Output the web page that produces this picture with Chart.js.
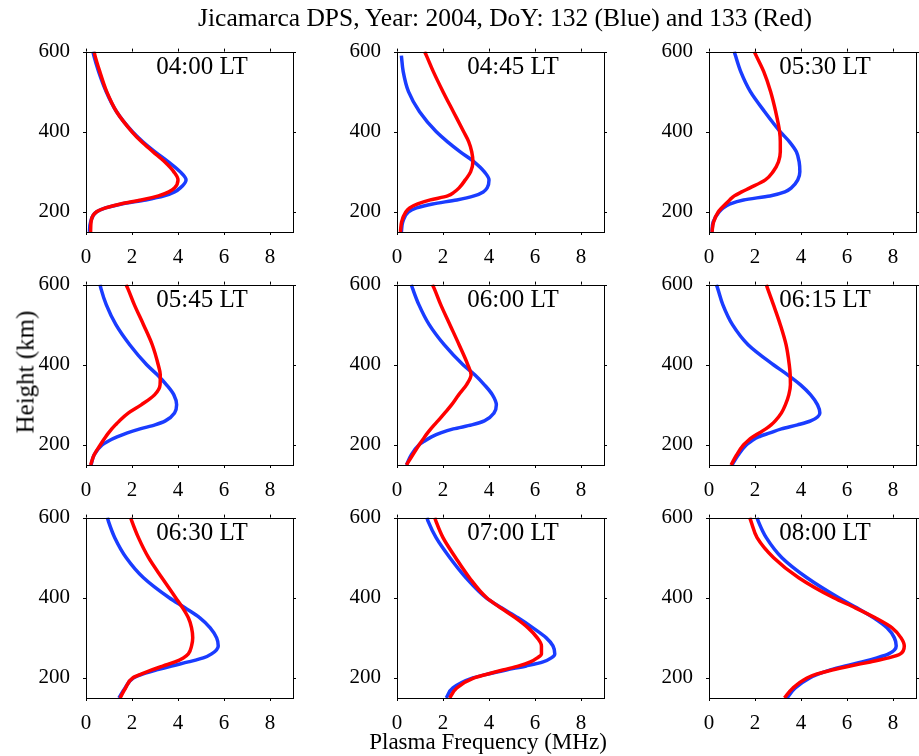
<!DOCTYPE html>
<html>
<head>
<meta charset="utf-8">
<script src="https://cdn.jsdelivr.net/npm/chart.js@4"></script>
<style>
    body { margin: 0; background: #fff; }
    #fig { position: relative; width: 919px; height: 756px; font-family: "Liberation Serif", "Times New Roman", serif; color: #000; }
    .panel { position: absolute; }
    .lbl { position: absolute; white-space: nowrap; line-height: 1; }
</style>
</head>
<body>
<div id="fig"></div>
<script>
// Heights (km) shared by every profile
const heights = [600, 590, 550, 500, 450, 400, 375, 350, 325, 300, 280, 260, 250, 240, 230, 220, 210, 200, 175, 150];

// Panel labels
const times = ['04:00 LT', '04:45 LT', '05:30 LT', '05:45 LT', '06:00 LT', '06:15 LT', '06:30 LT', '07:00 LT', '08:00 LT'];

// Plasma frequency (MHz), DoY 132 (blue)
const blue0400 = [0.3, 0.34, 0.55, 0.88, 1.33, 2.02, 2.47, 3.0, 3.58, 4.1, 4.35, 4.1, 3.85, 3.4, 2.6, 1.55, 0.85, 0.45, 0.2, 0.15];
const blue0445 = [null, 0.19, 0.27, 0.5, 0.98, 1.71, 2.2, 2.75, 3.35, 3.8, 4.0, 3.92, 3.75, 3.35, 2.6, 1.55, 0.85, 0.5, 0.25, 0.19];
const blue0530 = [1.1, 1.15, 1.38, 1.8, 2.42, 3.1, 3.5, 3.8, 3.92, 3.95, 3.86, 3.58, 3.3, 2.65, 1.5, 0.92, 0.62, 0.44, 0.18, 0.13];
const blue0545 = [0.61, 0.65, 0.88, 1.3, 1.9, 2.64, 3.1, 3.5, 3.82, 3.94, 3.85, 3.45, 3.0, 2.35, 1.8, 1.35, 0.98, 0.7, 0.35, 0.22];
const blue0600 = [0.62, 0.68, 0.95, 1.4, 2.05, 2.87, 3.38, 3.8, 4.15, 4.32, 4.22, 3.8, 3.25, 2.45, 1.9, 1.5, 1.2, 0.95, 0.62, 0.41];
const blue0615 = [0.32, 0.38, 0.6, 1.02, 1.7, 2.8, 3.42, 3.98, 4.42, 4.72, 4.82, 4.42, 3.85, 3.15, 2.65, 2.15, 1.85, 1.62, 1.27, 1.0];
const blue0630 = [0.93, 0.98, 1.25, 1.75, 2.5, 3.62, 4.3, 4.95, 5.4, 5.68, 5.75, 5.46, 5.1, 4.45, 3.72, 3.07, 2.49, 2.06, 1.7, 1.43];
const blue0700 = [1.3, 1.36, 1.7, 2.3, 3.0, 3.88, 4.54, 5.26, 5.91, 6.49, 6.78, 6.86, 6.71, 6.35, 5.62, 4.75, 3.96, 3.3, 2.43, 2.14];
const blue0800 = [2.09, 2.15, 2.49, 3.17, 4.26, 5.64, 6.43, 7.16, 7.74, 8.06, 8.14, 7.81, 7.3, 6.65, 5.93, 5.28, 4.77, 4.38, 3.75, 3.39];

// Plasma frequency (MHz), DoY 133 (red)
const red0400 = [0.35, 0.39, 0.6, 0.9, 1.33, 2.0, 2.42, 2.92, 3.42, 3.82, 4.0, 3.85, 3.6, 3.15, 2.4, 1.5, 0.85, 0.45, 0.22, 0.2];
const red0445 = [1.2, 1.28, 1.58, 2.0, 2.45, 2.9, 3.12, 3.25, 3.3, 3.2, 2.97, 2.7, 2.5, 2.2, 1.45, 0.9, 0.55, 0.38, 0.2, 0.15];
const red0530 = [1.97, 2.05, 2.38, 2.68, 2.9, 3.07, 3.1, 3.1, 3.02, 2.78, 2.45, 1.78, 1.42, 1.1, 0.9, 0.72, 0.55, 0.4, 0.2, 0.13];
const red0545 = [1.74, 1.82, 2.1, 2.5, 2.88, 3.14, 3.23, 3.22, 2.98, 2.4, 1.85, 1.45, 1.28, 1.12, 0.98, 0.85, 0.73, 0.62, 0.35, 0.2];
const red0600 = [1.54, 1.62, 1.9, 2.3, 2.7, 3.08, 3.22, 3.02, 2.68, 2.37, 2.08, 1.78, 1.62, 1.47, 1.33, 1.2, 1.08, 0.96, 0.68, 0.41];
const red0615 = [2.49, 2.55, 2.8, 3.1, 3.35, 3.49, 3.53, 3.54, 3.47, 3.32, 3.15, 2.88, 2.7, 2.47, 2.18, 1.9, 1.68, 1.5, 1.2, 0.96];
const red0630 = [1.94, 2.0, 2.28, 2.72, 3.3, 3.9, 4.2, 4.45, 4.59, 4.64, 4.59, 4.45, 4.23, 3.87, 3.36, 2.86, 2.42, 2.03, 1.72, 1.48];
const red0700 = [1.64, 1.7, 2.0, 2.55, 3.15, 3.9, 4.5, 5.15, 5.7, 6.1, 6.28, 6.28, 6.1, 5.8, 5.3, 4.6, 3.95, 3.35, 2.6, 2.29];
const red0800 = [1.77, 1.83, 2.09, 2.81, 3.9, 5.42, 6.36, 7.23, 7.96, 8.35, 8.49, 8.32, 7.81, 7.01, 6.14, 5.35, 4.7, 4.26, 3.65, 3.28];

// Axis ticks
const xTicks = [0, 2, 4, 6, 8];
const yTicks = [200, 400, 600];

const blueSeries = [blue0400, blue0445, blue0530, blue0545, blue0600, blue0615, blue0630, blue0700, blue0800];
const redSeries = [red0400, red0445, red0530, red0545, red0600, red0615, red0630, red0700, red0800];

const title = 'Jicamarca DPS, Year: 2004, DoY: 132 (Blue) and 133 (Red)';
const xLabel = 'Plasma Frequency (MHz)';
const yLabel = 'Height (km)';

// Layout of the 3x3 grid (plot area corners)
const colLeft = [86, 397, 709];
const rowTop = [45, 278, 511];
const plotW = 207, plotH = 187;
const padL = 62, padT = 14, padR = 10, padB = 32;

const fig = document.getElementById('fig');

function addLabel(text, css) {
    const d = document.createElement('div');
    d.className = 'lbl';
    d.textContent = text;
    Object.assign(d.style, css);
    fig.appendChild(d);
    return d;
}

// Frame with outward ticks on all four sides
const framePlugin = {
    id: 'frame',
    afterDraw(chart) {
        const { ctx, chartArea: a, scales } = chart;
        ctx.save();
        ctx.strokeStyle = '#000';
        ctx.lineWidth = 1;
        ctx.strokeRect(Math.round(a.left) + 0.5, Math.round(a.top) + 0.5,
            Math.round(a.right - a.left), Math.round(a.bottom - a.top));
        ctx.beginPath();
        xTicks.forEach(v => {
            const px = Math.round(scales.x.getPixelForValue(v)) + 0.5;
            ctx.moveTo(px, a.bottom); ctx.lineTo(px, a.bottom + 3);
            ctx.moveTo(px, a.top); ctx.lineTo(px, a.top - 3);
        });
        yTicks.forEach(v => {
            const py = Math.round(scales.y.getPixelForValue(v)) + 0.5;
            ctx.moveTo(a.left, py); ctx.lineTo(a.left - 3, py);
            ctx.moveTo(a.right, py); ctx.lineTo(a.right + 3, py);
        });
        ctx.stroke();
        ctx.restore();
    }
};

function makePoints(freqs) {
    return freqs.map((f, i) => ({ x: f, y: heights[i] }));
}

function createPanel(idx) {
    const col = idx % 3, row = Math.floor(idx / 3);
    const left = colLeft[col], top = rowTop[row];

    const wrap = document.createElement('div');
    wrap.className = 'panel';
    wrap.style.left = (left - padL) + 'px';
    wrap.style.top = (top - padT) + 'px';
    const canvas = document.createElement('canvas');
    canvas.width = padL + plotW + padR;
    canvas.height = padT + plotH + padB;
    wrap.appendChild(canvas);
    fig.appendChild(wrap);

    const tickFont = { family: '"Liberation Serif", "Times New Roman", serif', size: 21 };

    const lineStyle = {
        borderWidth: 3.5,
        pointRadius: 0,
        fill: false,
        cubicInterpolationMode: 'monotone'
    };

    new Chart(canvas.getContext('2d'), {
        type: 'line',
        data: {
            datasets: [
                Object.assign({ label: 'DoY 133', data: makePoints(redSeries[idx]), borderColor: '#ff0000' }, lineStyle),
                Object.assign({ label: 'DoY 132', data: makePoints(blueSeries[idx]), borderColor: '#1a3cff' }, lineStyle)
            ]
        },
        options: {
            indexAxis: 'y',
            responsive: false,
            animation: false,
            devicePixelRatio: 1,
            layout: { padding: { left: 0, top: padT, right: padR, bottom: 0 } },
            plugins: { legend: { display: false }, tooltip: { enabled: false } },
            scales: {
                x: {
                    type: 'linear',
                    position: 'bottom',
                    min: 0,
                    max: 9,
                    grid: { display: false },
                    border: { display: false },
                    ticks: { font: tickFont, color: '#000', padding: 5, maxRotation: 0 },
                    afterBuildTicks: s => { s.ticks = xTicks.map(v => ({ value: v })); },
                    afterFit: s => { s.height = padB; }
                },
                y: {
                    type: 'linear',
                    position: 'left',
                    min: 150,
                    max: 600,
                    grid: { display: false },
                    border: { display: false },
                    ticks: { font: tickFont, color: '#000', padding: 8 },
                    afterBuildTicks: s => { s.ticks = yTicks.map(v => ({ value: v })); },
                    afterFit: s => { s.width = padL; }
                }
            }
        },
        plugins: [framePlugin]
    });

    // Panel time label
    addLabel(times[idx], {
        left: (left + 116) + 'px',
        top: (top + 8) + 'px',
        fontSize: '25px',
        transform: 'translateX(-50%)'
    });
}

for (let i = 0; i < 9; i++) createPanel(i);

addLabel(title, { left: '505px', top: '5px', fontSize: '25.5px', transform: 'translateX(-50%)' });
addLabel(xLabel, { left: '488px', top: '730px', fontSize: '23px', transform: 'translateX(-50%)' });
addLabel(yLabel, { left: '25px', top: '372px', fontSize: '25px', transform: 'translate(-50%, -50%) rotate(-90deg)' });
</script>
</body>
</html>
